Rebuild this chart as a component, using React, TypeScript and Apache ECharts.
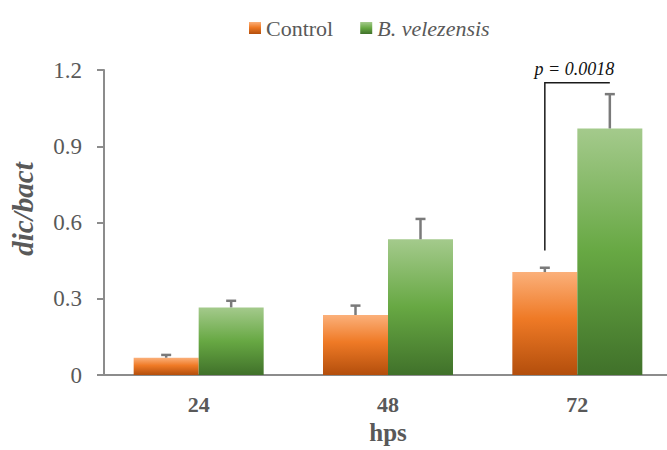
import React, { useEffect, useRef } from "react";
import * as echarts from "echarts";

// Hours post sowing and dic/bact ratios (mean and upper error)
const categories = ["24", "48", "72"];
const seriesNames = ["Control", "B. velezensis"];
const controlMeans = [0.068, 0.236, 0.405];
const controlErrors = [0.011, 0.037, 0.017];
const velezensisMeans = [0.266, 0.534, 0.97];
const velezensisErrors = [0.026, 0.08, 0.135];
const yTicks = [0, 0.3, 0.6, 0.9, 1.2];

// Significance bracket over the 72 hps pair
const bracketCategory = 2;
const bracketLow = 0.49;
const bracketHigh = 1.15;
const bracketLabel = "p = 0.0018";

const BAR_WIDTH = 65;
const SERIF = '"Liberation Serif", "Times New Roman", serif';
const TEXT_GREY = "#595959";
const AXIS_GREY = "#8c8c8c";

const orangeFill = new echarts.graphic.LinearGradient(0, 0, 0, 1, [
  { offset: 0, color: "#fbb07a" },
  { offset: 0.45, color: "#ef7a26" },
  { offset: 1, color: "#b34e0c" },
]);
const greenFill = new echarts.graphic.LinearGradient(0, 0, 0, 1, [
  { offset: 0, color: "#a4ca8c" },
  { offset: 0.5, color: "#67a843" },
  { offset: 1, color: "#40712a" },
]);

function errorBarData(means: number[], errors: number[], side: number) {
  return means.map((m, i) => [i, m, errors[i], side]);
}

function renderErrorBar(params: any, api: any) {
  const idx = api.value(0);
  const mean = api.value(1);
  const err = api.value(2);
  const side = api.value(3);
  const base = api.coord([idx, mean]);
  const top = api.coord([idx, mean + err]);
  const x = base[0] + (side * BAR_WIDTH) / 2;
  const style = { stroke: "#7a7a7a", lineWidth: 2.5 };
  return {
    type: "group",
    children: [
      { type: "line", shape: { x1: x, y1: base[1], x2: x, y2: top[1] }, style },
      { type: "line", shape: { x1: x - 5, y1: top[1], x2: x + 5, y2: top[1] }, style },
    ],
  };
}

function renderBracket(params: any, api: any) {
  const idx = api.value(0);
  const low = api.coord([idx, api.value(1)]);
  const high = api.coord([idx, api.value(2)]);
  const xLeft = low[0] - BAR_WIDTH / 2;
  const xRight = low[0] + BAR_WIDTH / 2;
  return {
    type: "group",
    children: [
      {
        type: "polyline",
        shape: {
          points: [
            [xLeft, low[1]],
            [xLeft, high[1]],
            [xRight, high[1]],
          ],
        },
        style: { stroke: "#1a1a1a", lineWidth: 1.5, fill: null },
      },
      {
        type: "text",
        x: (xLeft + xRight) / 2 - 3,
        y: high[1] - 14,
        style: {
          text: bracketLabel,
          align: "center",
          verticalAlign: "middle",
          fontFamily: SERIF,
          fontStyle: "italic",
          fontSize: 18,
          fill: "#111",
        },
      },
    ],
  };
}

export default function App() {
  const ref = useRef<HTMLDivElement>(null);

  useEffect(() => {
    if (!ref.current) return;
    const chart = echarts.init(ref.current, null, { renderer: "svg" });
    chart.setOption({
      animation: false,
      backgroundColor: "#ffffff",
      legend: {
        data: seriesNames,
        left: 244,
        top: 12,
        itemWidth: 12,
        itemHeight: 12,
        itemGap: 27,
        icon: "rect",
        formatter: (name: string) => (name === "B. velezensis" ? "{it|" + name + "}" : name),
        textStyle: {
          fontFamily: SERIF,
          fontSize: 22,
          color: TEXT_GREY,
          rich: {
            it: { fontFamily: SERIF, fontSize: 22, fontStyle: "italic", color: TEXT_GREY },
          },
        },
      },
      grid: {
        left: 104,
        top: 70,
        width: 568,
        height: 305,
        containLabel: false,
        outerBoundsMode: "none",
      },
      xAxis: {
        type: "category",
        data: categories,
        name: "hps",
        nameLocation: "middle",
        nameGap: 44,
        nameTextStyle: { fontFamily: SERIF, fontSize: 25, fontWeight: "bold", color: TEXT_GREY },
        axisLine: { lineStyle: { color: AXIS_GREY, width: 2 } },
        axisTick: { show: false },
        axisLabel: { margin: 18, fontFamily: SERIF, fontSize: 22, fontWeight: "bold", color: TEXT_GREY },
      },
      yAxis: {
        type: "value",
        min: yTicks[0],
        max: yTicks[yTicks.length - 1],
        interval: yTicks[1] - yTicks[0],
        axisLine: { show: true, lineStyle: { color: AXIS_GREY, width: 2 } },
        axisTick: { show: true, length: 7, lineStyle: { color: AXIS_GREY, width: 2 } },
        splitLine: { show: false },
        axisLabel: { margin: 22, fontFamily: SERIF, fontSize: 23, color: TEXT_GREY },
      },
      graphic: [
        {
          type: "text",
          x: 23,
          y: 209,
          rotation: Math.PI / 2,
          style: {
            text: "dic/bact",
            align: "center",
            verticalAlign: "middle",
            fontFamily: SERIF,
            fontSize: 29,
            fontWeight: "bold",
            fontStyle: "italic",
            fill: TEXT_GREY,
          },
        },
      ],
      series: [
        {
          name: seriesNames[0],
          type: "bar",
          data: controlMeans,
          barWidth: BAR_WIDTH,
          barGap: "0%",
          itemStyle: { color: orangeFill },
        },
        {
          name: seriesNames[1],
          type: "bar",
          data: velezensisMeans,
          barWidth: BAR_WIDTH,
          barGap: "0%",
          itemStyle: { color: greenFill },
        },
        {
          name: "controlErr",
          type: "custom",
          data: errorBarData(controlMeans, controlErrors, -1),
          renderItem: renderErrorBar,
          z: 5,
        },
        {
          name: "velezensisErr",
          type: "custom",
          data: errorBarData(velezensisMeans, velezensisErrors, 1),
          renderItem: renderErrorBar,
          z: 5,
        },
        {
          name: "bracket",
          type: "custom",
          data: [[bracketCategory, bracketLow, bracketHigh]],
          renderItem: renderBracket,
          clip: false,
          z: 6,
        },
      ],
    });
    return () => chart.dispose();
  }, []);

  return (
    <div
      ref={ref}
      style={{ position: "fixed", left: 0, top: 0, width: 667, height: 450 }}
    />
  );
}
